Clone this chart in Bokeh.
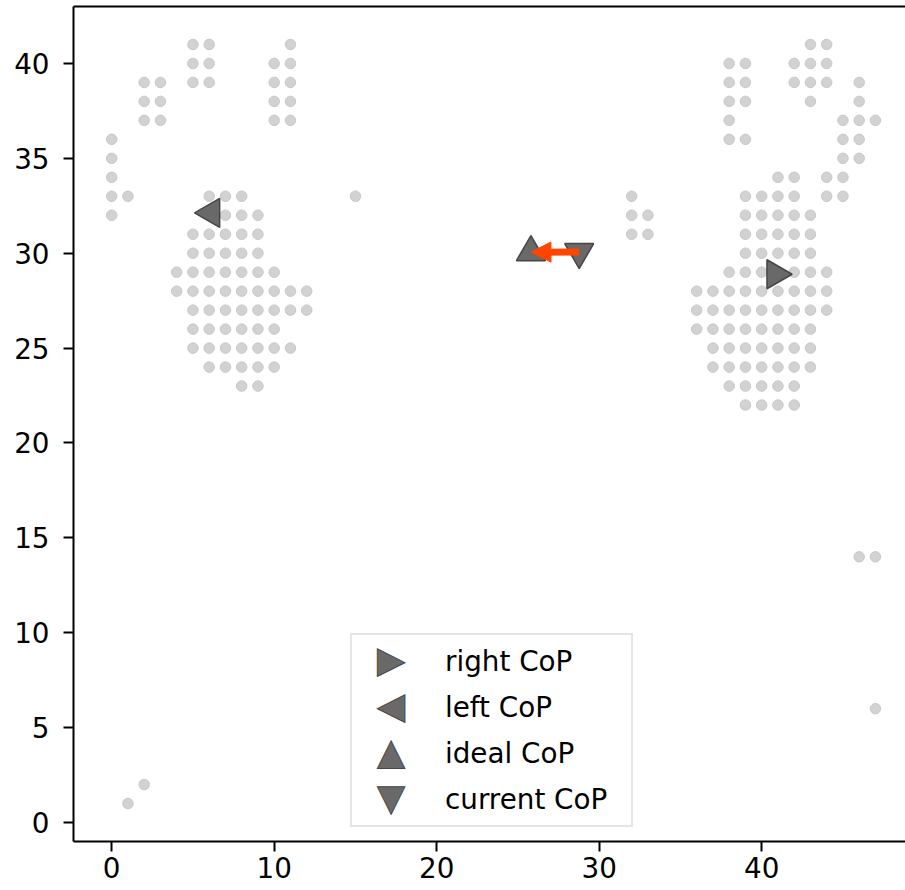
from bokeh.plotting import figure
from bokeh.models import (Range1d, FixedTicker, LinearAxis, Legend, LegendItem,
                          Arrow, NormalHead, Label)
from bokeh.embed import file_html
from bokeh.resources import INLINE

# ---------------- data ----------------
# active pressure cells, row y -> x columns
left_foot_rows = {
    41: [5, 6, 11],
    40: [5, 6, 10, 11],
    39: [2, 3, 5, 6, 10, 11],
    38: [2, 3, 10, 11],
    37: [2, 3, 10, 11],
    36: [0],
    35: [0],
    34: [0],
    33: [0, 1, 6, 7, 8],
    32: [0, 7, 8, 9],
    31: [5, 6, 7, 8, 9],
    30: [5, 6, 7, 8, 9],
    29: [4, 5, 6, 7, 8, 9, 10],
    28: [4, 5, 6, 7, 8, 9, 10, 11, 12],
    27: [5, 6, 7, 8, 9, 10, 11, 12],
    26: [5, 6, 7, 8, 9, 10],
    25: [5, 6, 7, 8, 9, 10, 11],
    24: [6, 7, 8, 9, 10],
    23: [8, 9],
}
right_foot_rows = {
    41: [43, 44],
    40: [38, 39, 42, 43, 44],
    39: [38, 39, 42, 43, 44, 46],
    38: [38, 39, 43, 46],
    37: [38, 45, 46, 47],
    36: [38, 39, 45, 46],
    35: [45, 46],
    34: [41, 42, 44, 45],
    33: [39, 40, 41, 42, 44, 45],
    32: [39, 40, 41, 42, 43],
    31: [39, 40, 41, 42, 43],
    30: [39, 40, 41, 42, 43],
    29: [38, 39, 40, 41, 42, 43, 44],
    28: [36, 37, 38, 39, 40, 41, 42, 43, 44],
    27: [36, 37, 38, 39, 40, 41, 42, 43, 44],
    26: [36, 37, 38, 39, 40, 41, 42, 43],
    25: [37, 38, 39, 40, 41, 42, 43],
    24: [37, 38, 39, 40, 41, 42, 43],
    23: [38, 39, 40, 41, 42],
    22: [39, 40, 41, 42],
}
stray_x = [15, 32, 32, 33, 32, 33, 1, 2, 46, 47, 47]
stray_y = [33, 33, 32, 32, 31, 31, 1, 2, 14, 14, 6]

right_cop = (40.84, 28.89)
left_cop = (6.13, 32.12)
ideal_cop = (25.8, 30.05)
current_cop = (28.77, 30.07)

legend_labels = ["right CoP", "left CoP", "ideal CoP", "current CoP"]
legend_symbols = ["\u25B6", "\u25C0", "\u25B2", "\u25BC"]
x_ticks = [0, 10, 20, 30, 40]
y_ticks = [0, 5, 10, 15, 20, 25, 30, 35, 40]

# ---------------- build ----------------
cell_x, cell_y = [], []
for rows in (left_foot_rows, right_foot_rows):
    for yy, xs in rows.items():
        for xx in xs:
            cell_x.append(xx)
            cell_y.append(yy)
cell_x += stray_x
cell_y += stray_y

FONT = "DejaVu Sans"
FS = "27.8px"
W, H = 905, 890

p = figure(width=W, height=H, output_backend="svg", toolbar_location=None,
           x_range=Range1d(-2.35, 48.85), y_range=Range1d(-1.0, 43.0),
           min_border_left=73, min_border_right=0, min_border_top=6,
           min_border_bottom=49)
p.outline_line_color = None
p.grid.visible = False
p.background_fill_color = "white"
p.border_fill_color = "white"

for ax, ticks in ((p.xaxis[0], x_ticks), (p.yaxis[0], y_ticks)):
    ax.ticker = FixedTicker(ticks=ticks)
    ax.axis_line_width = 2
    ax.axis_line_color = "black"
    ax.major_tick_line_width = 2
    ax.major_tick_line_color = "black"
    ax.major_tick_out = 10
    ax.major_tick_in = 0
    ax.minor_tick_line_color = None
    ax.major_label_text_font = FONT
    ax.major_label_text_font_size = FS
    ax.major_label_text_color = "black"
p.xaxis.major_label_standoff = 5
p.yaxis.major_label_standoff = 14

top = LinearAxis(ticker=FixedTicker(ticks=[]), major_tick_out=0, major_tick_in=0,
                 minor_tick_out=0, minor_tick_in=0, major_label_standoff=0,
                 major_label_text_font_size="0px", axis_line_width=2,
                 axis_line_color="black")
p.add_layout(top, "above")

p.scatter(cell_x, cell_y, marker="circle", size=10.5, fill_color="#d2d2d2",
          line_color="#c8c8c8", line_width=1)

tri_fill = "#696969"
tri_line = "#464646"
tri_size = 29
r_right = p.scatter([right_cop[0]], [right_cop[1]], marker="triangle", angle=-1.5707963,
                    size=tri_size, fill_color=tri_fill, line_color=tri_line, line_width=1.5)
r_left = p.scatter([left_cop[0]], [left_cop[1]], marker="triangle", angle=1.5707963,
                   size=tri_size, fill_color=tri_fill, line_color=tri_line, line_width=1.5)
r_ideal = p.scatter([ideal_cop[0]], [ideal_cop[1]], marker="triangle",
                    size=tri_size, fill_color=tri_fill, line_color=tri_line, line_width=1.5)
r_cur = p.scatter([current_cop[0]], [current_cop[1]], marker="inverted_triangle",
                  size=tri_size, fill_color=tri_fill, line_color=tri_line, line_width=1.5)

arrow = Arrow(x_start=current_cop[0], y_start=current_cop[1],
              x_end=ideal_cop[0], y_end=ideal_cop[1],
              line_color="#ff4500", line_width=7,
              end=NormalHead(size=20, fill_color="#ff4500", line_color="#ff4500", line_width=1))
p.add_layout(arrow)

# legend: labels + box from Bokeh's Legend, symbols drawn as glyph characters
# (Bokeh legend markers ignore rotation, so left/right triangles are drawn as text)
blank = p.scatter([], [], marker="circle", size=1, fill_alpha=0, line_alpha=0)
LEG_X, LEG_Y = 277, 14          # legend box bottom-left, px from frame bottom-left
PAD, GW, GH, STANDOFF = 3, 75, 46, 15
SYM_SHIFT = 4                   # optical centering of the glyph characters
items = [LegendItem(label=lab, renderers=[blank]) for lab in legend_labels]
legend = Legend(items=items, location=(LEG_X, LEG_Y), margin=0,
                glyph_width=GW, glyph_height=GH, spacing=0, padding=PAD,
                label_standoff=STANDOFF, label_width=183, label_height=GH,
                label_text_font=FONT, label_text_font_size=FS,
                label_text_color="black",
                border_line_color="#cccccc", border_line_width=2,
                background_fill_alpha=0)
p.add_layout(legend, "center")

box_h = 2 * PAD + GH * len(legend_labels)
for i, sym in enumerate(legend_symbols):
    cy = LEG_Y + box_h - PAD - GH / 2 - i * GH + SYM_SHIFT
    p.add_layout(Label(x=LEG_X + PAD + GW / 2, y=cy, x_units="screen", y_units="screen",
                       text=sym, text_align="center", text_baseline="middle",
                       text_font=FONT, text_font_size="36px", text_color=tri_fill,
                       text_outline_color=tri_line, level="overlay"))

open("out.html", "w").write(file_html(p, INLINE))
